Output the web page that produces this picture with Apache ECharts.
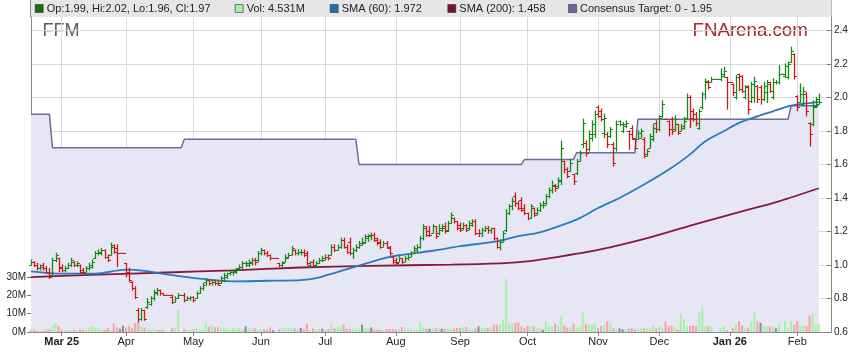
<!DOCTYPE html>
<html><head><meta charset="utf-8">
<script src="https://cdn.jsdelivr.net/npm/echarts@6.0.0/dist/echarts.min.js"></script>
<style>html,body{margin:0;padding:0;background:#fff}#c{width:859px;height:363px}</style>
</head><body><div id="c"></div>
<script>
// ---- data ----
const firstDay = [2025, 1, 17];      // first trading-day slot (Feb 17 2025), weekdays only
const slotCount = 262;               // weekday slots on the x axis
const monthNames = ['Jan','Feb','Mar','Apr','May','Jun','Jul','Aug','Sep','Oct','Nov','Dec'];
const priceTicks = [0.6,0.8,1.0,1.2,1.4,1.6,1.8,2.0,2.2,2.4];
const volumeTicks = [0,10,20,30];
// [open, high, low, close]
const ohlc = [
[1.00,1.03,1.00,1.02],[1.02,1.02,0.99,1.00],[1.00,1.01,0.97,0.98],[0.98,1.00,0.97,0.99],[1.00,1.01,0.97,0.98],
[0.98,0.99,0.95,0.96],[0.96,0.98,0.92,0.93],[0.94,1.04,0.94,1.03],[1.03,1.07,1.02,1.06],[1.04,1.04,0.96,0.98],
[0.99,1.00,0.96,0.97],[0.97,0.99,0.96,0.98],[0.98,1.01,0.98,1.00],[1.00,1.04,0.99,1.03],[1.02,1.02,0.99,1.00],
[1.00,1.02,0.99,1.01],[1.00,1.00,0.95,0.96],[0.97,0.98,0.95,0.95],[0.96,0.99,0.96,0.98],[0.98,1.01,0.97,1.00],
[0.99,1.03,0.98,1.02],[1.04,1.08,1.04,1.07],[1.07,1.09,1.06,1.08],[1.07,1.10,1.06,1.09],[1.09,1.09,1.04,1.05],
[1.05,1.06,1.02,1.03],[1.06,1.13,1.06,1.12],[1.11,1.12,1.07,1.08],[1.10,1.12,0.99,1.07],[1.07,1.07,1.07,1.07],
[1.07,1.07,1.07,1.07],[1.01,1.01,0.93,0.95],[0.96,0.98,0.90,0.91],[0.90,0.90,0.85,0.86],[0.86,0.87,0.80,0.81],
[0.73,0.74,0.66,0.68],[0.68,0.74,0.67,0.73],[0.73,0.73,0.67,0.68],[0.75,0.80,0.74,0.78],[0.77,0.81,0.76,0.80],
[0.80,0.85,0.79,0.84],[0.83,0.86,0.82,0.85],[0.85,0.85,0.82,0.83],[0.83,0.83,0.82,0.82],[0.82,0.82,0.82,0.82],
[0.82,0.82,0.82,0.82],[0.81,0.82,0.77,0.78],[0.78,0.81,0.78,0.80],[0.80,0.83,0.80,0.82],[0.82,0.82,0.82,0.82],
[0.82,0.83,0.78,0.79],[0.79,0.81,0.79,0.80],[0.80,0.81,0.79,0.81],[0.81,0.81,0.78,0.79],[0.80,0.84,0.80,0.83],
[0.83,0.87,0.83,0.86],[0.86,0.89,0.85,0.88],[0.90,0.92,0.88,0.91],[0.91,0.91,0.88,0.89],[0.89,0.91,0.88,0.90],
[0.90,0.91,0.88,0.89],[0.89,0.90,0.88,0.88],[0.89,0.93,0.89,0.92],[0.91,0.95,0.90,0.94],[0.93,0.95,0.92,0.95],
[0.95,0.97,0.94,0.96],[0.96,0.97,0.94,0.965],[0.96,0.98,0.95,0.975],[0.98,1.00,0.97,0.99],[0.99,1.02,0.98,1.01],
[1.01,1.02,0.99,1.01],[1.00,1.03,0.99,1.02],[1.01,1.04,1.00,1.03],[1.03,1.04,1.00,1.02],[1.03,1.08,1.02,1.07],
[1.07,1.10,1.06,1.09],[1.09,1.09,1.06,1.07],[1.07,1.08,1.05,1.06],[1.06,1.06,1.03,1.04],[1.04,1.04,1.04,1.04],
[1.04,1.04,1.04,1.04],[1.01,1.01,0.99,1.00],[1.00,1.02,0.99,1.01],[1.02,1.06,1.02,1.05],[1.04,1.07,1.04,1.06],
[1.06,1.11,1.06,1.10],[1.09,1.09,1.06,1.07],[1.07,1.09,1.06,1.08],[1.08,1.09,1.06,1.08],[1.08,1.09,1.05,1.06],
[1.07,1.08,1.00,1.01],[1.00,1.02,0.99,1.02],[1.02,1.03,0.99,1.00],[1.00,1.02,0.99,1.01],[1.01,1.04,1.01,1.03],
[1.03,1.05,1.02,1.03],[1.04,1.06,1.03,1.05],[1.05,1.06,1.03,1.04],[1.06,1.12,1.06,1.11],[1.11,1.12,1.08,1.09],
[1.09,1.12,1.09,1.11],[1.11,1.16,1.10,1.15],[1.15,1.16,1.10,1.11],[1.11,1.12,1.07,1.08],[1.14,1.16,1.06,1.07],
[1.07,1.10,1.04,1.09],[1.09,1.12,1.08,1.11],[1.11,1.14,1.10,1.13],[1.12,1.16,1.12,1.13],[1.14,1.18,1.13,1.17],
[1.16,1.18,1.14,1.18],[1.17,1.19,1.15,1.18],[1.18,1.19,1.14,1.15],[1.16,1.16,1.12,1.13],[1.14,1.15,1.10,1.11],
[1.11,1.14,1.11,1.13],[1.13,1.14,1.10,1.11],[1.10,1.11,1.06,1.07],[1.05,1.05,1.01,1.02],[1.03,1.04,1.00,1.01],
[1.02,1.05,1.02,1.04],[1.04,1.04,1.01,1.02],[1.02,1.05,1.02,1.04],[1.04,1.06,1.03,1.05],[1.05,1.08,1.05,1.07],
[1.07,1.11,1.07,1.10],[1.09,1.12,1.08,1.11],[1.11,1.17,1.10,1.16],[1.16,1.24,1.15,1.23],[1.22,1.23,1.17,1.18],
[1.20,1.23,1.17,1.18],[1.19,1.24,1.19,1.23],[1.23,1.23,1.16,1.17],[1.19,1.24,1.18,1.22],[1.21,1.24,1.20,1.22],
[1.23,1.25,1.19,1.20],[1.21,1.26,1.20,1.25],[1.25,1.31,1.25,1.30],[1.28,1.28,1.25,1.26],[1.26,1.26,1.21,1.22],
[1.24,1.25,1.20,1.21],[1.22,1.25,1.21,1.24],[1.24,1.24,1.20,1.21],[1.22,1.26,1.21,1.25],[1.24,1.27,1.23,1.26],
[1.26,1.27,1.18,1.19],[1.19,1.21,1.17,1.19],[1.19,1.22,1.17,1.21],[1.21,1.23,1.20,1.22],[1.22,1.23,1.19,1.21],
[1.21,1.22,1.19,1.22],[1.22,1.22,1.15,1.16],[1.16,1.16,1.10,1.11],[1.11,1.15,1.09,1.14],[1.14,1.20,1.14,1.19],
[1.21,1.33,1.20,1.31],[1.31,1.36,1.30,1.35],[1.35,1.40,1.33,1.38],[1.41,1.43,1.35,1.37],[1.37,1.38,1.33,1.34],
[1.39,1.40,1.32,1.33],[1.34,1.36,1.30,1.31],[1.31,1.31,1.27,1.28],[1.28,1.36,1.28,1.35],[1.34,1.34,1.29,1.30],
[1.31,1.34,1.30,1.33],[1.33,1.37,1.32,1.36],[1.36,1.38,1.34,1.36],[1.37,1.42,1.36,1.41],[1.41,1.46,1.40,1.45],
[1.45,1.50,1.43,1.48],[1.47,1.48,1.44,1.46],[1.47,1.52,1.46,1.51],[1.50,1.74,1.48,1.70],[1.62,1.62,1.55,1.57],
[1.57,1.58,1.52,1.53],[1.56,1.63,1.56,1.61],[1.54,1.54,1.48,1.50],[1.55,1.63,1.54,1.62],[1.62,1.68,1.62,1.67],
[1.72,1.87,1.70,1.85],[1.73,1.74,1.65,1.67],[1.69,1.80,1.68,1.78],[1.76,1.86,1.74,1.84],[1.78,1.92,1.76,1.90],
[1.94,1.95,1.88,1.89],[1.92,1.93,1.86,1.87],[1.79,1.90,1.76,1.88],[1.78,1.79,1.70,1.72],[1.77,1.82,1.76,1.81],
[1.72,1.73,1.59,1.61],[1.70,1.86,1.68,1.84],[1.86,1.86,1.83,1.84],[1.80,1.85,1.79,1.84],[1.83,1.86,1.82,1.85],
[1.80,1.80,1.69,1.78],[1.82,1.83,1.75,1.76],[1.75,1.75,1.69,1.70],[1.75,1.80,1.75,1.79],[1.76,1.81,1.76,1.80],
[1.75,1.76,1.64,1.66],[1.65,1.69,1.65,1.68],[1.70,1.78,1.70,1.77],[1.75,1.84,1.74,1.82],[1.85,1.86,1.79,1.81],
[1.81,1.89,1.80,1.88],[1.89,1.98,1.88,1.96],[1.87,1.87,1.87,1.87],[1.86,1.86,1.77,1.81],[1.87,1.88,1.78,1.80],
[1.81,1.89,1.80,1.87],[1.84,1.84,1.78,1.79],[1.80,1.84,1.80,1.83],[1.82,1.88,1.81,1.86],[1.88,2.02,1.87,2.00],
[2.00,2.01,1.82,1.88],[1.92,1.93,1.86,1.87],[1.90,1.91,1.83,1.85],[1.82,1.93,1.81,1.92],[1.94,2.03,1.93,2.02],
[2.02,2.11,1.99,2.09],[2.10,2.10,2.05,2.06],[2.09,2.12,2.09,2.11],[2.11,2.11,2.11,2.11],[2.11,2.11,2.11,2.11],
[2.11,2.17,2.10,2.14],[2.13,2.18,2.12,2.16],[2.12,2.12,1.93,2.09],[2.09,2.09,2.09,2.09],[2.08,2.08,2.01,2.03],
[2.00,2.13,1.99,2.12],[2.14,2.14,2.04,2.05],[2.13,2.13,2.03,2.04],[2.00,2.07,1.99,2.06],[2.07,2.07,1.90,1.93],
[1.98,2.09,1.97,2.08],[2.00,2.12,1.97,2.10],[2.07,2.07,1.97,1.99],[2.06,2.07,1.96,1.99],[1.99,2.09,1.98,2.07],
[2.03,2.10,1.97,2.08],[2.09,2.09,2.03,2.04],[2.00,2.11,1.99,2.09],[2.09,2.10,2.08,2.09],[2.09,2.19,2.08,2.14],
[2.14,2.14,2.14,2.14],[2.13,2.20,2.12,2.19],[2.12,2.21,2.11,2.20],[2.21,2.30,2.21,2.28],[2.26,2.26,2.11,2.13],
[2.01,2.01,1.92,1.94],[1.97,2.08,1.97,2.02],[1.96,2.06,1.95,2.04],[2.02,2.03,1.89,1.92],[1.85,1.85,1.71,1.78],
[1.84,1.98,1.83,1.94],[1.95,2.00,1.94,1.96],[1.99,2.02,1.96,1.97]
];
// volume, millions
const volume = [
1.6,1.3,0.7,0.7,0.7,1.3,1.6,3.1,4.5,3.1, 1.3,0.9,1.3,0.8,1.2,0.9,1.5,1.2,1.4,2.5,
3.1,2.0,2.4,1.3,1.2,2.2,1.3,4.5,2.6,1.8, 3.5,2.5,3.0,2.2,4.9,5.3,3.1,2.3,2.0,1.6,
1.3,1.3,1.2,1.3,0,0,2.0,2.2,12.0,0, 1.5,1.3,1.3,1.6,2.0,1.3,1.6,5.3,3.0,3.5,
2.6,2.6,1.8,2.5,1.6,1.3,2.0,1.7,2.6,1.3, 3.1,2.0,2.5,2.0,1.3,1.3,1.6,1.3,2.5,1.0,
0,1.5,2.5,2.2,2.6,2.2,2.0,1.6,2.2,1.6, 4.5,1.3,2.0,1.6,1.6,1.8,1.3,1.6,4.5,2.2,
2.7,3.1,4.0,1.8,1.8,1.8,1.8,1.8,4.0,2.2, 2.2,2.5,1.3,1.3,1.3,0.9,1.6,1.6,1.6,1.3,
1.6,2.7,1.6,2.2,1.3,1.3,1.6,5.3,2.7,1.8, 1.8,1.8,2.2,1.8,1.8,1.8,1.8,1.8,1.8,2.2,
2.2,2.7,2.7,1.8,1.8,1.8,3.1,2.2,2.2,2.2, 2.7,4.0,4.0,4.0,6.7,29.0,4.8,4.8,5.0,5.3,
2.8,2.2,3.3,3.0,3.0,2.0,2.0,1.3,6.0,3.3, 3.3,4.5,3.3,8.9,3.5,2.5,2.7,4.5,2.4,3.0,
10.5,4.2,4.2,4.0,4.2,2.2,3.3,4.2,6.0,4.5, 2.0,1.5,2.0,1.5,1.6,2.0,2.2,1.5,2.0,2.0,
2.0,2.0,2.0,3.3,2.0,3.3,2.0,6.0,3.3,3.5, 2.4,1.5,9.5,7.0,3.5,3.3,3.5,3.3,10.5,13.2,
3.0,3.0,3.0,0,0,2.0,3.3,1.0,0,2.0, 4.5,6.0,3.5,2.0,2.4,5.0,11.0,6.0,5.0,3.5,
3.0,3.0,3.0,2.0,4.5,0,6.0,2.4,6.0,4.0, 6.0,3.5,3.5,3.3,9.0,10.0,3.8,4.531
];
// moving averages read at sample slots: [slot, value]
const sma60 = [[0,0.962],[10,0.948],[21,0.948],[31,0.972],[37,0.965],[45,0.942],[55,0.918],[66,0.902],[77,0.906],
[88,0.910],[93,0.922],[104,0.98],[115,1.04],[120,1.058],[131,1.085],[140,1.112],[152,1.141],[158,1.168],[166,1.195],
[172,1.23],[179,1.28],[185,1.34],[192,1.40],[200,1.48],[209,1.58],[215,1.66],[220,1.738],[226,1.798],[231,1.848],
[237,1.887],[242,1.917],[247,1.947],[253,1.965],[257,1.972]];
const sma200 = [[0,0.928],[22,0.942],[44,0.955],[66,0.968],[88,0.985],[110,0.995],[137,1.002],[153,1.01],[161,1.02],
[169,1.04],[185,1.09],[202,1.165],[218,1.25],[234,1.33],[244,1.38],[257,1.458]];
// consensus target: [slot where value starts, value]
const targetSteps = [[0,1.90],[7,1.70],[50,1.75],[107,1.60],[161,1.63],[178,1.67],[198,1.87],[248,1.95]];
const legendItems = [
  {text:'Op:1.99, Hi:2.02, Lo:1.96, Cl:1.97', x:46.7, color:'#0d720d'},
  {text:'Vol: 4.531M', x:246.7, color:'#a6f0a6'},
  {text:'SMA (60): 1.972', x:341.7, color:'#1f6fb5'},
  {text:'SMA (200): 1.458', x:459.3, color:'#7a1030'},
  {text:'Consensus Target: 0 - 1.95', x:580, color:'#6a6a9a'}
];

// ---- build ----
const slots = [], monthOf = [], yearOf = [];
{
  const d = new Date(Date.UTC(firstDay[0], firstDay[1], firstDay[2]));
  while (slots.length < slotCount) {
    const wd = d.getUTCDay();
    if (wd !== 0 && wd !== 6) {
      slots.push(d.toISOString().slice(0,10));
      monthOf.push(d.getUTCMonth()); yearOf.push(d.getUTCFullYear());
    }
    d.setUTCDate(d.getUTCDate()+1);
  }
}
const isMonthStart = slots.map((s,i)=> i>0 && monthOf[i]!==monthOf[i-1]);
const firstLabelIdx = isMonthStart.indexOf(true);

const GREEN='#138a13', RED='#d21616';
const VGREEN='#a6f0a6', VRED='#f5a3a3', VGREY='#8c8c8c';
const dir = ohlc.map((b,i)=>{const p=i?ohlc[i-1][3]:b[0];return b[3]>p?1:(b[3]<p?-1:0);});
let lastDir = 1;
const priceColor = dir.map(d=>{ if(d!==0) lastDir=d; return lastDir>0?GREEN:RED; });
const volColor = dir.map(d=> d>0?VGREEN:(d<0?VRED:VGREY));

const lastIdx = ohlc.length-1;
const targetLine = [[targetSteps[0][0], targetSteps[0][1]]];
for (let k=1;k<targetSteps.length;k++){
  targetLine.push([targetSteps[k][0]-1, targetSteps[k-1][1]]);
  targetLine.push([targetSteps[k][0], targetSteps[k][1]]);
}
targetLine.push([lastIdx, targetSteps[targetSteps.length-1][1]]);

const FONT = 'Arial, "Liberation Sans", sans-serif';
const chart = echarts.init(document.getElementById('c'), null, {renderer:'canvas'});

function renderOHLC(params, api){
  const i = api.value(0);
  const pO = api.coord([i, api.value(1)]);
  const pH = api.coord([i, api.value(2)]);
  const pL = api.coord([i, api.value(3)]);
  const pC = api.coord([i, api.value(4)]);
  const x = Math.round(pH[0]) + 0.5;
  const col = priceColor[params.dataIndex];
  const st = {stroke:col, lineWidth:1.3};
  const yo = Math.round(pO[1])+0.5, yc = Math.round(pC[1])+0.5;
  return {type:'group', children:[
    {type:'line', shape:{x1:x,y1:pH[1]-0.5,x2:x,y2:pL[1]+0.5}, style:st},
    {type:'line', shape:{x1:x-2.5,y1:yo,x2:x,y2:yo}, style:{stroke:col,lineWidth:1}},
    {type:'line', shape:{x1:x,y1:yc,x2:x+2.5,y2:yc}, style:{stroke:col,lineWidth:1}}
  ]};
}

const graphic = [
  {type:'rect', silent:true, z:-1, shape:{x:31,y:0,width:800,height:17}, style:{fill:'#e6e6e6'}},
  {type:'line', silent:true, shape:{x1:30.5,y1:0,x2:30.5,y2:17}, style:{stroke:'#888',lineWidth:1}},
  {type:'line', silent:true, shape:{x1:831.5,y1:0,x2:831.5,y2:17}, style:{stroke:'#bbb',lineWidth:1}},
  {type:'text', silent:true, x:42.5, y:21.6, style:{text:'FFM', font:'18px '+FONT, fill:'#5c5c5c', verticalAlign:'top'}},
  {type:'text', silent:true, x:692.5, y:21.4, style:{text:'FNArena.com', font:'18.7px '+FONT, fill:'#a3262a', verticalAlign:'top'}}
];
legendItems.forEach(it=>{
  graphic.push({type:'rect', silent:true, shape:{x:it.x-11.5,y:4.5,width:8,height:8}, style:{fill:it.color, stroke:'#333', lineWidth:0.6}});
  graphic.push({type:'text', silent:true, x:it.x, y:9, style:{text:it.text, font:'11px '+FONT, fill:'#222', verticalAlign:'middle'}});
});

const option = {
  animation:false,
  backgroundColor:'#ffffff',
  grid:{left:31, right:28, top:17, bottom:31},
  graphic: graphic,
  xAxis:{
    type:'category', data:slots, boundaryGap:false,
    axisLine:{lineStyle:{color:'#888'}},
    axisTick:{interval:(i)=>isMonthStart[i], length:4, lineStyle:{color:'#888'}},
    splitLine:{show:true, interval:(i)=>isMonthStart[i], lineStyle:{color:'#d9d9d9'}},
    axisLabel:{
      interval:(i)=>isMonthStart[i], margin:4, fontSize:11, fontFamily:FONT, color:'#222',
      formatter:(v,i)=>{
        const m = monthOf[i];
        if (i===firstLabelIdx || m===0) return '{b|'+monthNames[m]+' '+String(yearOf[i]).slice(2)+'}';
        return monthNames[m];
      },
      rich:{b:{fontWeight:'bold', fontSize:11, fontFamily:FONT, color:'#222'}}
    }
  },
  yAxis:[
    {type:'value', position:'right', min:0.6, max:2.48, interval:0.2,
     axisLine:{show:true, lineStyle:{color:'#888'}},
     axisTick:{show:true, inside:true, length:4, customValues:priceTicks, lineStyle:{color:'#777'}},
     axisLabel:{customValues:priceTicks, margin:3, fontSize:10, fontFamily:FONT, color:'#222', formatter:(v)=>v.toFixed(1)},
     splitLine:{show:true, lineStyle:{color:'#d9d9d9'}}},
    {type:'value', position:'left', min:0, max:171.8,
     axisLine:{show:true, lineStyle:{color:'#888'}},
     axisTick:{show:true, length:4, customValues:volumeTicks, lineStyle:{color:'#777'}},
     axisLabel:{customValues:volumeTicks, margin:5, fontSize:10, fontFamily:FONT, color:'#222', formatter:(v)=>v+'M'},
     splitLine:{show:false}}
  ],
  series:[
    {type:'line', name:'Consensus', yAxisIndex:0, data:targetLine, symbol:'none', z:1,
     lineStyle:{color:'#6d6d9c', width:1.5}, areaStyle:{color:'#e6e6f5', opacity:1, origin:'start'}},
    {type:'bar', name:'Vol', yAxisIndex:1, barWidth:2, z:2,
     data: volume.map((v,i)=>({value:v, itemStyle:{color:volColor[i]}}))},
    {type:'line', name:'SMA200', yAxisIndex:0, data:sma200, symbol:'none', smooth:0.3, z:3,
     lineStyle:{color:'#84193c', width:1.8}},
    {type:'line', name:'SMA60', yAxisIndex:0, data:sma60, symbol:'none', smooth:0.3, z:3,
     lineStyle:{color:'#2a7bbd', width:1.8}},
    {type:'custom', name:'Price', yAxisIndex:0, z:4, renderItem:renderOHLC,
     encode:{x:0, y:[1,2,3,4]},
     data: ohlc.map((b,i)=>[i,b[0],b[1],b[2],b[3]])}
  ]
};
chart.setOption(option);
</script></body></html>
